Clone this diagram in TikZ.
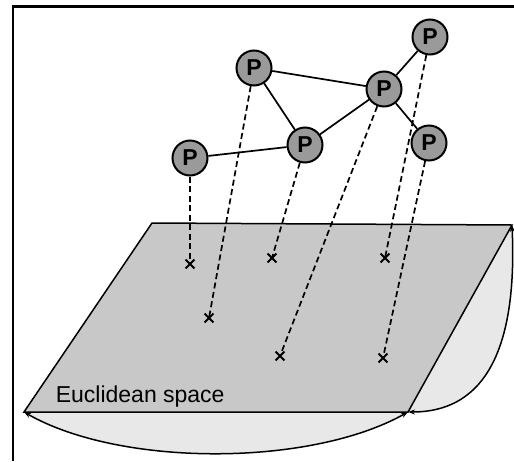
\documentclass[tikz,border=0pt]{standalone}
\usepackage{fontspec}
\setmainfont{Liberation Sans}
\usetikzlibrary{arrows.meta, shapes.misc}
\definecolor{cnode}{HTML}{9A9A9A}
\definecolor{cplane}{HTML}{C8C8C8}
\definecolor{clight}{HTML}{E8E8E8}
\tikzset{
  every picture/.style={x=1pt, y=-1pt, line width=1.6pt},
  peer/.style={circle, draw, fill=cnode, line width=2pt, minimum size=35pt, inner sep=0pt, font=\fontsize{23}{25}\selectfont\bfseries},
  link/.style={draw, line width=1.7pt},
  proj/.style={draw, dashed, dash pattern=on 6pt off 3.5pt, line width=1.7pt},
  xmark/.style={cross out, draw, line width=1.8pt, minimum size=7pt, inner sep=0pt},
  curl/.style={{Stealth[length=7pt, width=5pt]}-{Stealth[length=7pt, width=5pt]}, line width=1.5pt},
  spacelabel/.style={font=\fontsize{23}{26}\selectfont, anchor=base west, inner sep=0pt},
}

\begin{document}
\begin{tikzpicture}
  \useasboundingbox (0,0) rectangle (514,461);
  % frame
  \draw[line width=2.5pt] (13,461) -- (13,6.5) -- (514,6.5);

  % corners of the plane
  \coordinate (tl) at (152,223);
  \coordinate (tr) at (512,225);
  \coordinate (br) at (408,412);
  \coordinate (bl) at (24,412);

  \fill[clight] (bl) -- (br) .. controls (310,467) and (120,467) .. (bl) -- cycle;
  \fill[clight] (tr) .. controls (517,340) and (490,412) .. (br) -- cycle;
  \draw[fill=cplane, line width=1.5pt] (tl) -- (tr) -- (br) -- (bl) -- cycle;
  \draw[curl] (bl) .. controls (120,467) and (310,467) .. (br);
  \draw[curl] (tr) .. controls (517,340) and (490,412) .. (br);

  \node[spacelabel] (t) at (55,402) {Euclidean space};

  % peers
  \node[peer] (p1) at (190,158) {P};
  \node[peer] (p2) at (254,68) {P};
  \node[peer] (p3) at (305,145) {P};
  \node[peer] (p4) at (384,89) {P};
  \node[peer] (p5) at (430,37) {P};
  \node[peer] (p6) at (429,143) {P};

  \draw[link] (p2) -- (p4);
  \draw[link] (p2) -- (p3);
  \draw[link] (p3) -- (p4);
  \draw[link] (p1) -- (p3);
  \draw[link] (p4) -- (p5);
  \draw[link] (p4) -- (p6);

  % projected points
  \node[xmark] (x1) at (190,264) {};
  \node[xmark] (x2) at (209,318) {};
  \node[xmark] (x3) at (272,258) {};
  \node[xmark] (x4) at (280,356) {};
  \node[xmark] (x5) at (385,258) {};
  \node[xmark] (x6) at (383,358) {};

  \draw[proj] (p1) -- (x1.center);
  \draw[proj] (p2) -- (x2.center);
  \draw[proj] (p3) -- (x3.center);
  \draw[proj] (p4) -- (x4.center);
  \draw[proj] (p5) -- (x5.center);
  \draw[proj] (p6) -- (x6.center);
\end{tikzpicture}
\end{document}
